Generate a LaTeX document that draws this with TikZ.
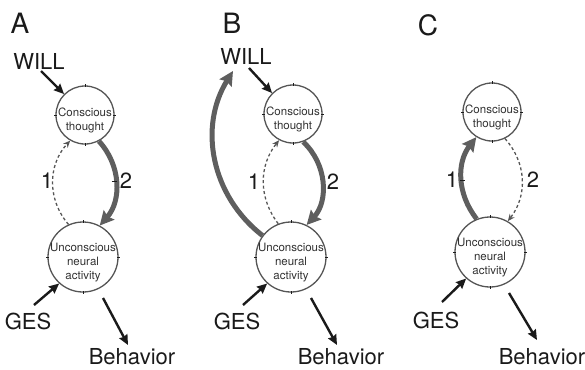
\documentclass[tikz,border=0pt]{standalone}
\usepackage{fontspec}
\setmainfont{TeX Gyre Heros}
\usetikzlibrary{arrows.meta,calc}
\definecolor{cgrey}{HTML}{555555}
\definecolor{tgrey}{HTML}{5E5E5E}
\definecolor{ink}{HTML}{1A1A1A}
\tikzset{
  circ/.style={circle,draw=cgrey,line width=1.3pt,inner sep=0pt},
  smallc/.style={circ,minimum size=58pt},
  bigc/.style={circ,minimum size=70pt},
  ctext/.style={align=center,font=\fontsize{11.5}{14}\selectfont,text=ink!90,inner sep=0pt},
  lbl/.style={font=\fontsize{22}{22}\selectfont,text=ink,inner sep=0pt},
  panel/.style={font=\fontsize{28}{28}\selectfont,text=ink,inner sep=0pt},
  num/.style={font=\fontsize{22}{22}\selectfont,text=ink,inner sep=0pt},
  blk/.style={draw=ink,line width=2.4pt,-{Stealth[length=10pt,width=9pt,inset=1pt]}},
  fat/.style={draw=tgrey,line width=5pt,-{Stealth[length=14pt,width=14pt,inset=2pt]}},
  dsh/.style={draw=cgrey,line width=1.3pt,dash pattern=on 3pt off 2.5pt,-{Stealth[length=7pt,width=6pt]}},
  tickmark/.style={draw=ink,line width=0.8pt},
}
\begin{document}
\begin{tikzpicture}[x=1pt,y=-1pt]
\useasboundingbox (0,0) rectangle (585,369);
% ---------- Panel A ----------
\node[panel] (labA) at (20,23) {A};
\node[lbl] (wA) at (39,61) {WILL};
\node[smallc] (cA) at (85,115) {};
\node[bigc] (uA) at (83,257) {};
\node[ctext] (cAt) at (85,120) {Conscious\\thought};
\node[ctext] (uAt) at (83,263) {Unconscious\\neural\\activity};
\node[lbl] (gA) at (28,321) {GES};
\node[lbl] (bA) at (132,357) {Behavior};
\node[num] (n1A) at (47,181) {1};
\node[num] (n2A) at (126,181) {2};
\coordinate (wAt) at (41,71);
\coordinate (gAt) at (34,305);
\coordinate (bAt) at (103,298);
\coordinate (bAh) at (128,345);
\draw[blk] (wAt) -- (cA.135);
\draw[blk] (gAt) -- (uA.228);
\draw[blk] (bAt) -- (bAh);
\draw[dsh] (uA.114) to[bend left=42] (cA.240);
\draw[fat] (cA.298) to[bend left=42] (uA.62);
\draw[tickmark] ([xshift=-8pt]n2A.west) -- ([xshift=-3pt]n2A.west);
% ---------- Panel B ----------
\node[panel] (labB) at (232,23) {B};
\node[lbl] (wB) at (246,56) {WILL};
\node[smallc] (cB) at (293,114) {};
\node[bigc] (uB) at (291,257) {};
\node[ctext] (cBt) at (293,119) {Conscious\\thought};
\node[ctext] (uBt) at (291,263) {Unconscious\\neural\\activity};
\node[lbl] (gB) at (237,321) {GES};
\node[lbl] (bB) at (341,357) {Behavior};
\node[num] (n1B) at (254,182) {1};
\node[num] (n2B) at (333,182) {2};
\coordinate (wBt) at (249,68);
\coordinate (wBh) at (233,71);
\coordinate (gBt) at (243,305);
\coordinate (bBt) at (311,298);
\coordinate (bBh) at (337,345);
\draw[blk] (wBt) -- (cB.135);
\draw[blk] (gBt) -- (uB.228);
\draw[blk] (bBt) -- (bBh);
\draw[fat] (uB.143) to[bend left=42] (wBh);
\draw[dsh] (uB.111) to[bend left=38] (cB.242);
\draw[fat] (cB.290) to[bend left=45] (uB.64);
% ---------- Panel C ----------
\node[panel] (labC) at (428,25) {C};
\node[smallc] (cC) at (492,112) {};
\node[bigc] (uC) at (490,252) {};
\node[ctext] (cCt) at (492,117) {Conscious\\thought};
\node[ctext] (uCt) at (490,258) {Unconscious\\neural\\activity};
\node[lbl] (gC) at (436,320) {GES};
\node[lbl] (bC) at (542,357) {Behavior};
\node[num] (n1C) at (452,180) {1};
\node[num] (n2C) at (533,180) {2};
\coordinate (gCt) at (442,302);
\coordinate (bCt) at (509,293);
\coordinate (bCh) at (537,340);
\draw[blk] (gCt) -- (uC.228);
\draw[blk] (bCt) -- (bCh);
\draw[fat] (uC.112) to[bend left=38] (cC.238);
\draw[dsh] (cC.296) to[bend left=40] (uC.60);
\draw[tickmark] ([xshift=2pt]n1C.east) -- ([xshift=7pt]n1C.east);
% ---------- anchor ticks on circles ----------
\foreach \n in {cA,uA,cB,uB,cC,uC}{
  \foreach \a in {0,90,180,270}{
    \draw[tickmark] ([shift={(\a:-1.5pt)}]\n.\a) -- ([shift={(\a:1.5pt)}]\n.\a);
  }
}
\end{tikzpicture}
\end{document}
